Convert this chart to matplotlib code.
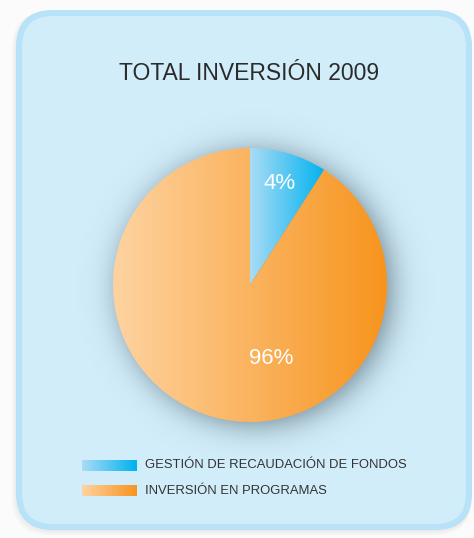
import matplotlib
matplotlib.use("Agg")
import matplotlib.pyplot as plt
import numpy as np
from matplotlib.colors import LinearSegmentedColormap, to_rgb
from matplotlib.patches import FancyBboxPatch

title = "TOTAL INVERSIÓN 2009"
categories = ["GESTIÓN DE RECAUDACIÓN DE FONDOS", "INVERSIÓN EN PROGRAMAS"]
pct_labels = ["4%", "96%"]
slice_sizes = [9.1, 90.9]  # wedge sizes as drawn in the picture
grad_colors = [("#aadcf6", "#00b2ee"), ("#fed3a1", "#f7941d")]

plt.rcParams["font.family"] = ["Liberation Sans", "DejaVu Sans"]

fig = plt.figure(figsize=(4.74, 5.38), dpi=100)
fig.patch.set_facecolor("#fbfbfb")
ax = fig.add_axes([0, 0, 1, 1])

# panel shadow + panel
for i in range(3):
    ax.add_patch(FancyBboxPatch((16 - 2 * i, 11), 456 + 2 * i, 520 + 2 * i,
                                boxstyle="round,pad=0,rounding_size=38",
                                fc="#888888", ec="none", alpha=0.05, zorder=0))
ax.add_patch(FancyBboxPatch((19, 13), 450, 514,
                            boxstyle="round,pad=0,rounding_size=34",
                            fc="#d1edf9", ec="#b7e2f7", lw=4.4, zorder=1))

ax.text(249, 74, title, ha="center", va="center", fontsize=16.5, color="#2b2b2b", zorder=5)

# pie
cx, cy, r = 250, 285, 137

# soft shadow behind the pie
gx, gy = np.meshgrid(np.arange(60, 440), np.arange(100, 470))
d = np.hypot(gx - (cx + 5), gy - (cy + 3))
sh = 0.6 / (1 + np.exp((d - r) / 8.5))
rgba = np.zeros(gx.shape + (4,))
rgba[..., :3] = to_rgb("#3a4d5a")
rgba[..., 3] = sh
ax.imshow(rgba, extent=(60, 440, 470, 100), zorder=2, interpolation="bilinear")

wedges, texts = ax.pie(slice_sizes, labels=pct_labels, startangle=-90, counterclock=True,
                       center=(cx, cy), radius=r, labeldistance=0.77,
                       wedgeprops=dict(linewidth=0, edgecolor="none"),
                       textprops=dict(color="white", fontsize=16, ha="center", va="center"))
ax.set_xlim(0, 474)
ax.set_ylim(538, 0)
ax.set_aspect("equal")
ax.axis("off")

for w, (c0, c1) in zip(wedges, grad_colors):
    w.set_facecolor("none")
    w.set_zorder(3)
    x0, y0, x1, y1 = w.get_window_extent().transformed(ax.transData.inverted()).extents
    xa, xb = min(x0, x1), max(x0, x1)
    ya, yb = min(y0, y1), max(y0, y1)
    cmap = LinearSegmentedColormap.from_list("g", [c0, c1])
    im = ax.imshow(np.linspace(0, 1, 256).reshape(1, -1), cmap=cmap, aspect="auto",
                   extent=(xa, xb, yb, ya), zorder=3, interpolation="bilinear")
    im.set_clip_path(w)

for t in texts:
    t.set_zorder(6)
texts[1].set_position((cx + 21, cy + 73))

# legend
for i, (lab, (c0, c1)) in enumerate(zip(categories, grad_colors)):
    y = 465.5 + i * 25
    cmap = LinearSegmentedColormap.from_list("l", [c0, c1])
    ax.imshow(np.linspace(0, 1, 128).reshape(1, -1), cmap=cmap, aspect="auto",
              extent=(82, 137, y + 5.5, y - 5.5), zorder=4)
    ax.text(145, y, lab, ha="left", va="center", fontsize=9.4, color="#333333", zorder=5)

ax.set_xlim(0, 474)
ax.set_ylim(538, 0)
fig.savefig("out.png", dpi=100)
